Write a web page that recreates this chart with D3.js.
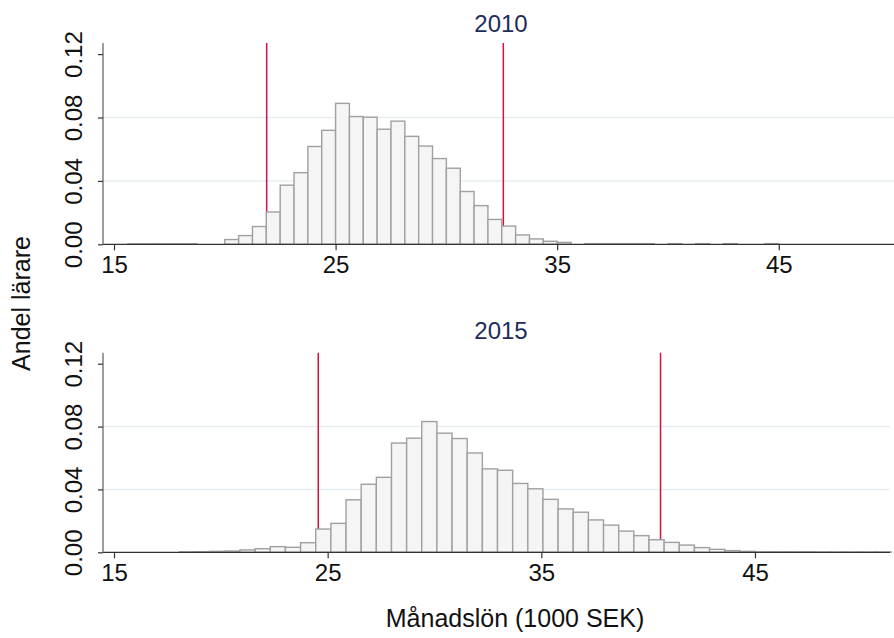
<!DOCTYPE html>
<html>
<head>
<meta charset="utf-8">
<script src="https://cdn.jsdelivr.net/npm/d3@7/dist/d3.min.js"></script>
<style>
  body { margin: 0; background: #fff; }
  svg { display: block; font-family: "Liberation Sans", Arial, sans-serif; }
</style>
</head>
<body>
<svg id="chart" width="894" height="638"></svg>
<script>
/* ── Data: share of teachers per salary bin (fraction) ───────── */
const years     = ["2010", "2015"];
const binStart  = [15.625, 18.061];   /* left edge of first bin, 1000 SEK */
const binWidth  = [0.625, 0.709];

const frac2010 = [
  0.0003, 0.0003, 0.0003, 0.0003, 0.0003, 0, 0,
  0.0030, 0.0055, 0.0112, 0.0204, 0.0373, 0.0452, 0.0617, 0.0719,
  0.0889, 0.0806, 0.0802, 0.0726, 0.0777, 0.0681, 0.0620, 0.0541,
  0.0480, 0.0333, 0.0244, 0.0157, 0.0115, 0.0059, 0.0034, 0.0019,
  0.0012, 0, 0.0004, 0.0004, 0.0004, 0.0004, 0.0004, 0,
  0.0004, 0, 0.0004, 0, 0.0004, 0, 0, 0.0004
];

const frac2015 = [
  0.0003, 0.0004, 0.0006, 0.0008,
  0.0015, 0.0023, 0.0036, 0.0032, 0.0061, 0.0148, 0.0184, 0.0334,
  0.0433, 0.0477, 0.0695, 0.0726, 0.0832, 0.0758, 0.0724, 0.0632,
  0.0531, 0.0522, 0.0438, 0.0404, 0.0337, 0.0276, 0.0255, 0.0206,
  0.0173, 0.0135, 0.0106, 0.0080, 0.0063, 0.0046, 0.0030, 0.0019,
  0.0011, 0.0006, 0.0003, 0.0003, 0.0003, 0.0003, 0.0002, 0.0002,
  0.0002, 0.0002, 0.0002
];

/* vertical reference lines (percentiles) */
const pLines2010 = [21.89, 32.57];
const pLines2015 = [24.56, 40.58];

const xTickVals = [15, 25, 35, 45];
const yTickVals = [0, 0.04, 0.08, 0.12];
const xDomains  = [[14.504, 50.2], [14.485, 51.32]];
const yMax      = 0.127;

const FRACS  = [frac2010, frac2015];
const PLINES = [pLines2010, pLines2015];

/* ── Layout ─────────────────────────────────────────────────── */
const LEFT = 103;
const PANELS = [
  { top: 43,    bottom: 244.3, right: 894, titleY: 32 },
  { top: 352.7, bottom: 552.3, right: 890, titleY: 338.5 }
];
const FONT = 24;

const svg = d3.select("#chart");

PANELS.forEach((p, i) => {
  const x = d3.scaleLinear().domain(xDomains[i]).range([LEFT, p.right]);
  const y = d3.scaleLinear().domain([0, yMax]).range([p.bottom, p.top]);
  const g = svg.append("g");

  /* gridlines */
  g.append("g")
    .selectAll("line")
    .data(yTickVals.filter(v => v > 0 && v < 0.1))
    .join("line")
    .attr("x1", LEFT).attr("x2", p.right)
    .attr("y1", d => y(d)).attr("y2", d => y(d))
    .attr("stroke", "#e6edf1").attr("stroke-width", 1.5);

  /* reference lines, beneath the bars */
  g.append("g")
    .selectAll("line")
    .data(PLINES[i])
    .join("line")
    .attr("x1", d => x(d)).attr("x2", d => x(d))
    .attr("y1", p.top).attr("y2", p.bottom)
    .attr("stroke", "#d3103f").attr("stroke-width", 1.5);

  /* bars */
  const bins = FRACS[i]
    .map((v, k) => ({ v, x0: binStart[i] + k * binWidth[i], x1: binStart[i] + (k + 1) * binWidth[i] }))
    .filter(d => d.v > 0);

  g.append("g")
    .selectAll("rect")
    .data(bins)
    .join("rect")
    .attr("x", d => x(d.x0))
    .attr("width", d => x(d.x1) - x(d.x0))
    .attr("y", d => y(d.v))
    .attr("height", d => y(0) - y(d.v))
    .attr("fill", "#f5f5f5")
    .attr("stroke", "#a0a0a0")
    .attr("stroke-width", 1.4);

  /* x axis */
  const xa = g.append("g")
    .attr("transform", `translate(0,${p.bottom})`)
    .call(d3.axisBottom(x).tickValues(xTickVals).tickSize(6).tickSizeOuter(0).tickFormat(d3.format("d")));
  xa.select(".domain").attr("stroke", "#333").attr("stroke-width", 1.3)
    .attr("d", `M${LEFT},0H${p.right}`);
  xa.selectAll(".tick line").attr("stroke", "#333").attr("stroke-width", 1.2);
  xa.selectAll(".tick text")
    .attr("font-size", FONT).attr("font-family", "Liberation Sans, Arial, sans-serif")
    .attr("fill", "#111").attr("dy", null).attr("y", 28.5);

  /* y axis */
  const ya = g.append("g")
    .attr("transform", `translate(${LEFT},0)`)
    .call(d3.axisLeft(y).tickValues(yTickVals).tickSize(5).tickSizeOuter(0).tickFormat(d3.format(".2f")));
  ya.select(".domain").attr("stroke", "#6a6a6a").attr("stroke-width", 1.3)
    .attr("d", `M0,${p.top}V${p.bottom}`);
  ya.selectAll(".tick line").attr("stroke", "#333").attr("stroke-width", 1.2);
  ya.selectAll(".tick text")
    .attr("font-size", FONT).attr("font-family", "Liberation Sans, Arial, sans-serif")
    .attr("fill", "#111")
    .attr("x", null).attr("dy", null)
    .attr("text-anchor", "middle")
    .attr("transform", "translate(-21,0) rotate(-90)");

  /* panel title */
  svg.append("text")
    .attr("x", 501).attr("y", p.titleY)
    .attr("text-anchor", "middle")
    .attr("font-size", FONT)
    .attr("fill", "#1f2c59")
    .text(years[i]);
});

/* ── Shared axis titles ─────────────────────────────────────── */
svg.append("text")
  .attr("transform", "translate(30,303.5) rotate(-90)")
  .attr("text-anchor", "middle")
  .attr("font-size", 25)
  .attr("fill", "#111")
  .text("Andel lärare");

svg.append("text")
  .attr("x", 515).attr("y", 627)
  .attr("text-anchor", "middle")
  .attr("font-size", 25)
  .attr("fill", "#111")
  .text("Månadslön (1000 SEK)");
</script>
</body>
</html>
